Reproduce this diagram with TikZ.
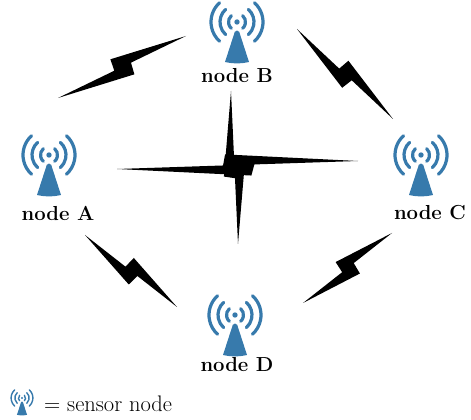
\documentclass[tikz,border=0pt]{standalone}
\usetikzlibrary{calc}

\definecolor{antblue}{RGB}{55,122,172}

% lightning bolt between two points, offset halves meet in a notch
\newcommand{\bolt}[3][12pt]{%
  \fill (#2) -- ($(#2)!0.44!(#3)$) -- ($(#2)!0.45!(#3)!#1!90:(#3)$) -- (#3)
    -- ($(#2)!0.57!(#3)$) -- ($(#2)!0.556!(#3)!#1!-90:(#3)$) -- cycle;}

\tikzset{
  wave width/.store in=\wavew, wave width=3.2,
  antenna/.pic={
    \fill[antblue] (0,0) circle (2.7);
    \foreach \r in {8.5,17,26}{
      \draw[antblue, line width=\wavew, line cap=round] (48:\r) arc (48:-48:\r);
      \draw[antblue, line width=\wavew, line cap=round] (132:\r) arc (132:228:\r);
    }
    \fill[antblue] (-12,-40) -- (-2.2,-9.8) to[out=75,in=105] (2.2,-9.8)
      -- (12,-40) to[bend left=12] (-12,-40) -- cycle;
  },
  lbl/.style={font=\fontsize{20.3}{24}\selectfont\bfseries, anchor=base, inner sep=0pt}
}

\begin{document}
\begin{tikzpicture}[x=1pt,y=1pt]
\useasboundingbox (0,0) rectangle (471,420);

% sensor nodes
\pic (antA) at (49,265) {antenna};
\pic (antB) at (237,398) {antenna};
\pic (antC) at (421,265) {antenna};
\pic (antD) at (235,105) {antenna};

\node[lbl] (A) at (58,199) {node A};
\node[lbl] (B) at (237,337) {node B};
\node[lbl] (C) at (430,200) {node C};
\node[lbl] (D) at (237,48) {node D};

% wireless links
\coordinate (ab1) at (58,322);  \coordinate (ab2) at (186,384);
\coordinate (bc1) at (297,391); \coordinate (bc2) at (393,301);
\coordinate (ad1) at (85,185);  \coordinate (ad2) at (177,113);
\coordinate (cd1) at (303,117); \coordinate (cd2) at (392,187);
\bolt{ab1}{ab2}
\bolt{bc1}{bc2}
\bolt{ad1}{ad2}
\bolt{cd1}{cd2}

% crossing links in the middle
\coordinate (h1) at (117,251); \coordinate (h2) at (358,259);
\coordinate (v1) at (231,329); \coordinate (v2) at (238,176);
\bolt[11pt]{h1}{h2}
\bolt[11pt]{v1}{v2}

% legend
\pic[scale=0.42, wave width=1.4] (antkey) at (22,22) {antenna};
\node[anchor=base west, inner sep=0pt, font=\fontsize{22.5}{26}\selectfont] (key) at (44,8) {= sensor node};
\end{tikzpicture}
\end{document}
